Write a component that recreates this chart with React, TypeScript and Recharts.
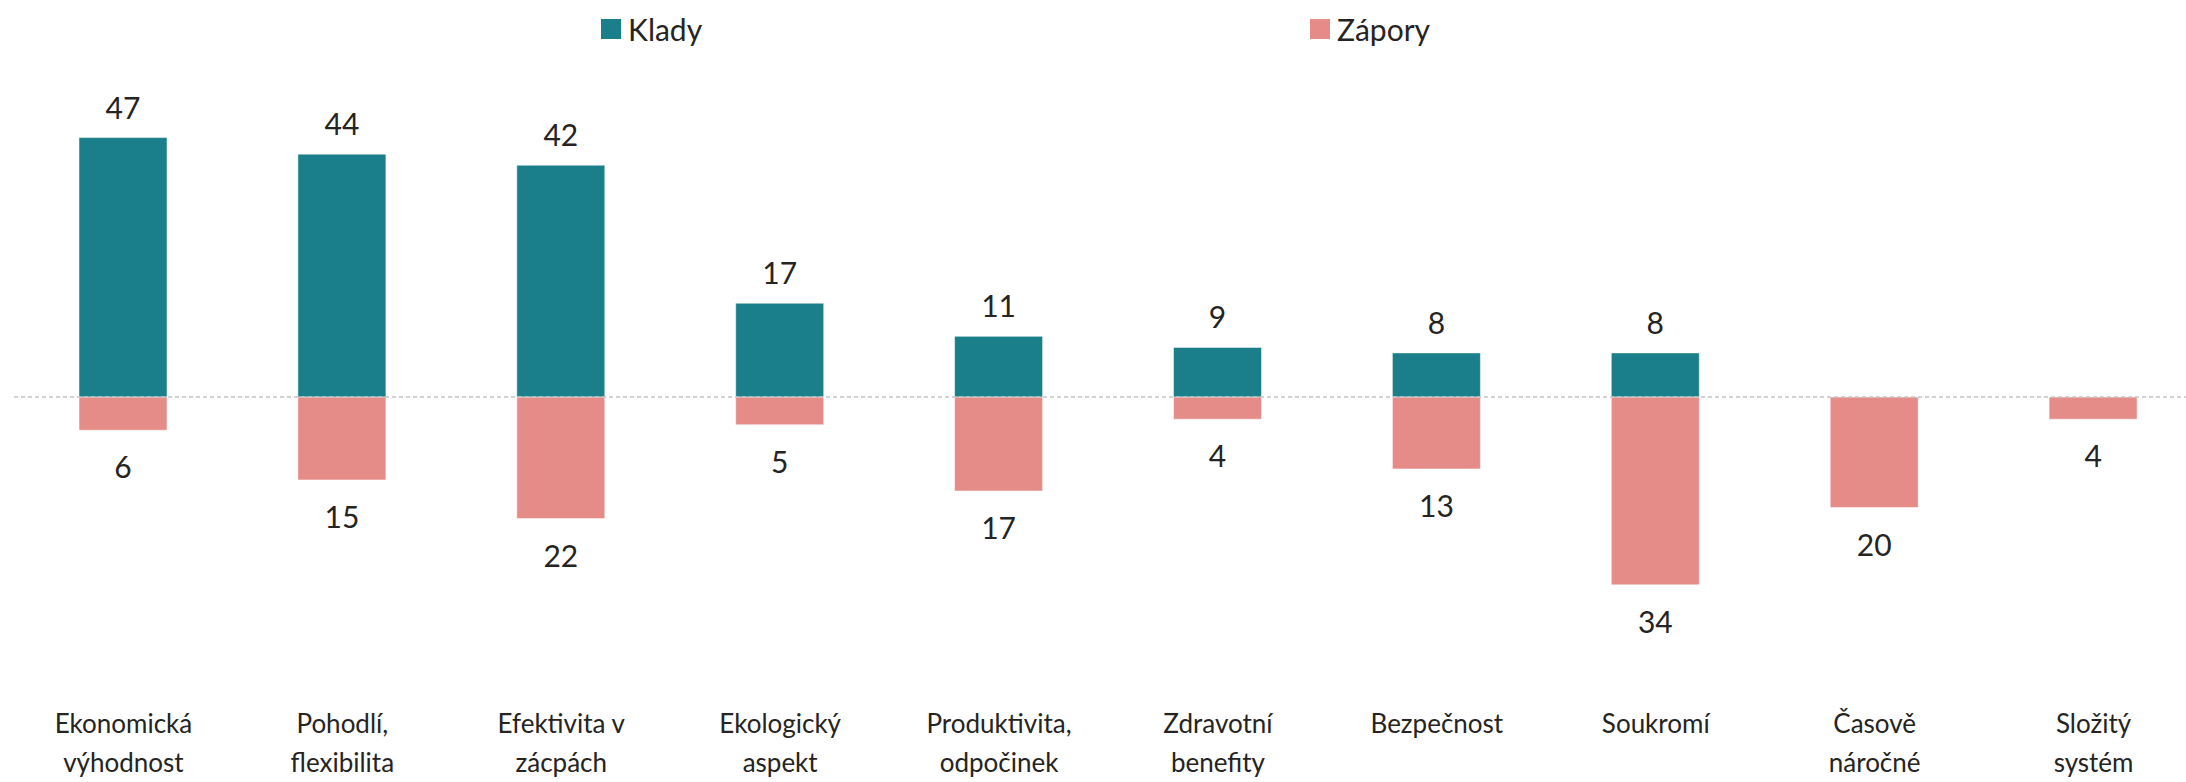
import React from 'react';
import { BarChart, Bar, XAxis, YAxis, ReferenceLine, Legend, LabelList } from 'recharts';

// kategorie (zalomení řádků přes \n)
const categories = [
  'Ekonomická\nvýhodnost',
  'Pohodlí,\nflexibilita',
  'Efektivita v\nzácpách',
  'Ekologický\naspekt',
  'Produktivita,\nodpočinek',
  'Zdravotní\nbenefity',
  'Bezpečnost',
  'Soukromí',
  'Časově\nnáročné',
  'Složitý\nsystém',
];

const klady = [47, 44, 42, 17, 11, 9, 8, 8, 0, 0];
const zapory = [6, 15, 22, 5, 17, 4, 13, 34, 20, 4];

const TEAL = '#1a7f8a';
const SALMON = '#e68c88';
const TEXT = '#252423';
const FONT = 'Lato, "Segoe UI", sans-serif';

const data = categories.map((c, i) => ({
  name: c,
  klady: klady[i],
  zapory: -zapory[i],
}));

const AxisTick = (props: any) => {
  const { x, y, payload } = props;
  const lines = String(payload.value).split('\n');
  return (
    <g>
      {lines.map((l, i) => (
        <text
          key={i}
          x={x}
          y={y + 97 + i * 39}
          textAnchor="middle"
          dominantBaseline="central"
          fontSize={26}
          fontFamily={FONT}
          fill={TEXT}
        >
          {l}
        </text>
      ))}
    </g>
  );
};

const makeLabel = (above: boolean) => (props: any) => {
  const { x, y, width, height, value } = props;
  const v = Math.abs(Number(value));
  if (!v) return null;
  const top = Math.min(y, y + height);
  const bottom = Math.max(y, y + height);
  const ty = above ? top - 31 : bottom + 36;
  return (
    <text
      x={x + width / 2}
      y={ty}
      textAnchor="middle"
      dominantBaseline="central"
      fontSize={30}
      fontFamily={FONT}
      fill={TEXT}
    >
      {v}
    </text>
  );
};

const legendX = [601, 1310];

// legenda bez vlastní výšky, aby neposouvala graf
const CustomLegend = (props: any) => {
  const { payload } = props;
  return (
    <div style={{ position: 'relative', width: 2186, height: 0 }}>
      {payload.map((p: any, i: number) => (
        <div
          key={p.value}
          style={{
            position: 'absolute',
            left: legendX[i],
            top: 14,
            display: 'flex',
            alignItems: 'center',
            fontFamily: FONT,
            fontSize: 30,
            color: TEXT,
            lineHeight: '30px',
            whiteSpace: 'nowrap',
          }}
        >
          <span style={{ width: 20, height: 20, background: p.color, display: 'inline-block', marginRight: 7 }} />
          {p.value}
        </div>
      ))}
    </div>
  );
};

export default function App() {
  return (
    <div style={{ position: 'absolute', left: 0, top: 0, width: 2186, height: 782, overflow: 'hidden', background: '#fff' }}>
      <BarChart
        width={2210}
        height={782}
        data={data}
        stackOffset="sign"
        margin={{ top: 121, right: 7, left: 14, bottom: 0 }}
      >
        <XAxis
          dataKey="name"
          axisLine={false}
          tickLine={false}
          interval={0}
          height={164}
          tick={<AxisTick />}
        />
        <YAxis hide domain={[-40, 50]} />
        <Legend
          verticalAlign="top"
          align="left"
          wrapperStyle={{ top: 0, left: 0 }}
          content={<CustomLegend />}
        />
        <Bar dataKey="klady" name="Klady" stackId="a" fill={TEAL} barSize={88} stroke="rgba(255,255,255,0.5)" isAnimationActive={false}>
          <LabelList dataKey="klady" content={makeLabel(true)} />
        </Bar>
        <Bar dataKey="zapory" name="Zápory" stackId="a" fill={SALMON} barSize={88} stroke="rgba(255,255,255,0.5)" isAnimationActive={false}>
          <LabelList dataKey="zapory" content={makeLabel(false)} />
        </Bar>
        <ReferenceLine y={0} stroke="#c4c4c4" strokeDasharray="4 3" strokeWidth={1.5} />
      </BarChart>
    </div>
  );
}
